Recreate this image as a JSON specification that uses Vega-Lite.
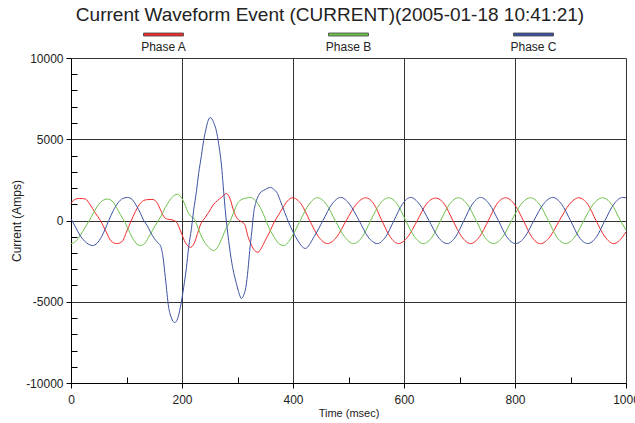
{
  "$schema": "https://vega.github.io/schema/vega-lite/v6.json",
  "padding": {"left": 10, "top": 5, "right": 5, "bottom": 5},
  "title": {"text": "Current Waveform Event (CURRENT)(2005-01-18 10:41:21)", "fontSize": 19, "font": "Liberation Sans", "fontWeight": "normal", "color": "#222", "anchor": "middle", "offset": 8, "dx": 5},
  "config": {
    "view": {"stroke": null},
    "font": "Liberation Sans",
    "axis": {"labelFont": "Liberation Sans", "titleFont": "Liberation Sans", "labelColor": "#222", "titleColor": "#222", "titleFontWeight": "normal", "labelFontSize": 12, "titleFontSize": 12, "domainColor": "#000", "tickColor": "#000", "gridColor": "#333", "gridOpacity": 1, "gridWidth": 1}
  },
  "bounds": "flush",
  "spacing": 22,
  "vconcat": [
    {
      "width": 555,
      "height": 3,
      "data": {"values": [{"p": "Phase A"}, {"p": "Phase B"}, {"p": "Phase C"}]},
      "mark": {"type": "bar", "width": 40, "stroke": "#444", "strokeWidth": 0.8},
      "encoding": {
        "x": {"field": "p", "type": "nominal", "scale": {"paddingInner": 0, "paddingOuter": 0}, "axis": {"orient": "bottom", "title": null, "domain": false, "ticks": false, "labelAngle": 0, "labelPadding": 5, "labelFontSize": 12}},
        "color": {"field": "p", "type": "nominal", "scale": {"domain": ["Phase A", "Phase B", "Phase C"], "range": ["#f42a2a", "#6cc04a", "#3d52a1"]}, "legend": null}
      }
    },
    {
      "width": 555,
      "height": 325,
      "data": {"values": [
        {"p":"Phase A","t":0,"v":1050},{"p":"Phase A","t":6,"v":1280},{"p":"Phase A","t":15,"v":1360},{"p":"Phase A","t":26,"v":1320},{"p":"Phase A","t":34,"v":1000},{"p":"Phase A","t":44,"v":450},{"p":"Phase A","t":53,"v":0},{"p":"Phase A","t":62,"v":-600},{"p":"Phase A","t":72,"v":-1250},{"p":"Phase A","t":82,"v":-1420},{"p":"Phase A","t":92,"v":-1300},{"p":"Phase A","t":100,"v":-700},{"p":"Phase A","t":108,"v":-50},{"p":"Phase A","t":116,"v":550},{"p":"Phase A","t":126,"v":1100},{"p":"Phase A","t":136,"v":1280},{"p":"Phase A","t":146,"v":1300},{"p":"Phase A","t":154,"v":1150},{"p":"Phase A","t":162,"v":600},{"p":"Phase A","t":168,"v":200},{"p":"Phase A","t":174,"v":80},{"p":"Phase A","t":182,"v":40},{"p":"Phase A","t":190,"v":-100},{"p":"Phase A","t":198,"v":-700},{"p":"Phase A","t":206,"v":-1350},{"p":"Phase A","t":215,"v":-1650},{"p":"Phase A","t":222,"v":-1400},{"p":"Phase A","t":228,"v":-800},{"p":"Phase A","t":234,"v":-200},{"p":"Phase A","t":241,"v":150},{"p":"Phase A","t":248,"v":500},{"p":"Phase A","t":256,"v":950},{"p":"Phase A","t":264,"v":1230},{"p":"Phase A","t":272,"v":1450},{"p":"Phase A","t":280,"v":1660},{"p":"Phase A","t":287,"v":1300},{"p":"Phase A","t":293,"v":600},{"p":"Phase A","t":300,"v":100},{"p":"Phase A","t":306,"v":-50},{"p":"Phase A","t":313,"v":-250},{"p":"Phase A","t":319,"v":-1000},{"p":"Phase A","t":325,"v":-1500},{"p":"Phase A","t":331,"v":-1850},{"p":"Phase A","t":337,"v":-1950},{"p":"Phase A","t":343,"v":-1700},{"p":"Phase A","t":350,"v":-1230},{"p":"Phase A","t":358,"v":-700},{"p":"Phase A","t":366,"v":-100},{"p":"Phase A","t":374,"v":350},{"p":"Phase A","t":382,"v":800},{"p":"Phase A","t":390,"v":1200},{"p":"Phase A","t":399,"v":1400},{"p":"Phase A","t":415,"v":1000},{"p":"Phase A","t":430,"v":0},{"p":"Phase A","t":446,"v":-1000},{"p":"Phase A","t":462,"v":-1420},{"p":"Phase A","t":479,"v":-1000},{"p":"Phase A","t":496,"v":0},{"p":"Phase A","t":514,"v":1000},{"p":"Phase A","t":531,"v":1400},{"p":"Phase A","t":546,"v":1000},{"p":"Phase A","t":560,"v":0},{"p":"Phase A","t":575,"v":-1000},{"p":"Phase A","t":590,"v":-1420},{"p":"Phase A","t":607,"v":-1000},{"p":"Phase A","t":624,"v":0},{"p":"Phase A","t":640,"v":1000},{"p":"Phase A","t":657,"v":1380},{"p":"Phase A","t":673,"v":1000},{"p":"Phase A","t":688,"v":0},{"p":"Phase A","t":704,"v":-1000},{"p":"Phase A","t":720,"v":-1420},{"p":"Phase A","t":736,"v":-1000},{"p":"Phase A","t":752,"v":0},{"p":"Phase A","t":767,"v":1000},{"p":"Phase A","t":783,"v":1400},{"p":"Phase A","t":799,"v":1000},{"p":"Phase A","t":815,"v":0},{"p":"Phase A","t":830,"v":-1000},{"p":"Phase A","t":846,"v":-1430},{"p":"Phase A","t":863,"v":-1000},{"p":"Phase A","t":880,"v":0},{"p":"Phase A","t":898,"v":1000},{"p":"Phase A","t":915,"v":1400},{"p":"Phase A","t":931,"v":1000},{"p":"Phase A","t":946,"v":0},{"p":"Phase A","t":962,"v":-1000},{"p":"Phase A","t":978,"v":-1420},{"p":"Phase A","t":994,"v":-1000},{"p":"Phase A","t":1000,"v":-700},
        {"p":"Phase B","t":0,"v":-1420},{"p":"Phase B","t":8,"v":-1300},{"p":"Phase B","t":17,"v":-900},{"p":"Phase B","t":25,"v":-450},{"p":"Phase B","t":33,"v":0},{"p":"Phase B","t":41,"v":500},{"p":"Phase B","t":50,"v":1000},{"p":"Phase B","t":58,"v":1250},{"p":"Phase B","t":66,"v":1320},{"p":"Phase B","t":74,"v":1200},{"p":"Phase B","t":82,"v":800},{"p":"Phase B","t":90,"v":300},{"p":"Phase B","t":97,"v":-100},{"p":"Phase B","t":104,"v":-600},{"p":"Phase B","t":112,"v":-1150},{"p":"Phase B","t":119,"v":-1450},{"p":"Phase B","t":125,"v":-1540},{"p":"Phase B","t":133,"v":-1400},{"p":"Phase B","t":142,"v":-900},{"p":"Phase B","t":152,"v":-300},{"p":"Phase B","t":161,"v":200},{"p":"Phase B","t":170,"v":800},{"p":"Phase B","t":178,"v":1250},{"p":"Phase B","t":186,"v":1550},{"p":"Phase B","t":192,"v":1620},{"p":"Phase B","t":198,"v":1450},{"p":"Phase B","t":205,"v":1000},{"p":"Phase B","t":211,"v":500},{"p":"Phase B","t":216,"v":250},{"p":"Phase B","t":221,"v":150},{"p":"Phase B","t":226,"v":-200},{"p":"Phase B","t":233,"v":-820},{"p":"Phase B","t":240,"v":-1300},{"p":"Phase B","t":248,"v":-1650},{"p":"Phase B","t":257,"v":-1850},{"p":"Phase B","t":265,"v":-1600},{"p":"Phase B","t":273,"v":-1000},{"p":"Phase B","t":280,"v":-450},{"p":"Phase B","t":286,"v":-100},{"p":"Phase B","t":293,"v":500},{"p":"Phase B","t":300,"v":1050},{"p":"Phase B","t":308,"v":1300},{"p":"Phase B","t":316,"v":1380},{"p":"Phase B","t":323,"v":1420},{"p":"Phase B","t":330,"v":1300},{"p":"Phase B","t":341,"v":800},{"p":"Phase B","t":349,"v":200},{"p":"Phase B","t":356,"v":-400},{"p":"Phase B","t":364,"v":-900},{"p":"Phase B","t":374,"v":-1400},{"p":"Phase B","t":383,"v":-1550},{"p":"Phase B","t":398,"v":-1000},{"p":"Phase B","t":413,"v":0},{"p":"Phase B","t":429,"v":1000},{"p":"Phase B","t":444,"v":1400},{"p":"Phase B","t":460,"v":1000},{"p":"Phase B","t":476,"v":0},{"p":"Phase B","t":493,"v":-1000},{"p":"Phase B","t":509,"v":-1420},{"p":"Phase B","t":525,"v":-1000},{"p":"Phase B","t":540,"v":0},{"p":"Phase B","t":556,"v":1000},{"p":"Phase B","t":572,"v":1400},{"p":"Phase B","t":588,"v":1000},{"p":"Phase B","t":603,"v":0},{"p":"Phase B","t":619,"v":-1000},{"p":"Phase B","t":635,"v":-1420},{"p":"Phase B","t":651,"v":-1000},{"p":"Phase B","t":666,"v":0},{"p":"Phase B","t":682,"v":1000},{"p":"Phase B","t":698,"v":1400},{"p":"Phase B","t":714,"v":1000},{"p":"Phase B","t":730,"v":0},{"p":"Phase B","t":745,"v":-1000},{"p":"Phase B","t":761,"v":-1420},{"p":"Phase B","t":778,"v":-1000},{"p":"Phase B","t":794,"v":0},{"p":"Phase B","t":811,"v":1000},{"p":"Phase B","t":828,"v":1400},{"p":"Phase B","t":844,"v":1000},{"p":"Phase B","t":860,"v":0},{"p":"Phase B","t":875,"v":-1000},{"p":"Phase B","t":891,"v":-1420},{"p":"Phase B","t":908,"v":-1000},{"p":"Phase B","t":924,"v":0},{"p":"Phase B","t":941,"v":1000},{"p":"Phase B","t":958,"v":1400},{"p":"Phase B","t":974,"v":1000},{"p":"Phase B","t":990,"v":0},{"p":"Phase B","t":1000,"v":-600},
        {"p":"Phase C","t":0,"v":100},{"p":"Phase C","t":8,"v":-400},{"p":"Phase C","t":16,"v":-900},{"p":"Phase C","t":24,"v":-1250},{"p":"Phase C","t":31,"v":-1450},{"p":"Phase C","t":39,"v":-1540},{"p":"Phase C","t":47,"v":-1400},{"p":"Phase C","t":55,"v":-1000},{"p":"Phase C","t":62,"v":-500},{"p":"Phase C","t":68,"v":0},{"p":"Phase C","t":76,"v":600},{"p":"Phase C","t":85,"v":1100},{"p":"Phase C","t":93,"v":1350},{"p":"Phase C","t":102,"v":1420},{"p":"Phase C","t":110,"v":1300},{"p":"Phase C","t":118,"v":900},{"p":"Phase C","t":125,"v":450},{"p":"Phase C","t":131,"v":0},{"p":"Phase C","t":137,"v":-300},{"p":"Phase C","t":143,"v":-700},{"p":"Phase C","t":150,"v":-1100},{"p":"Phase C","t":156,"v":-1350},{"p":"Phase C","t":161,"v":-1540},{"p":"Phase C","t":166,"v":-2300},{"p":"Phase C","t":170,"v":-3500},{"p":"Phase C","t":176,"v":-5350},{"p":"Phase C","t":181,"v":-6000},{"p":"Phase C","t":187,"v":-6280},{"p":"Phase C","t":192,"v":-6050},{"p":"Phase C","t":197,"v":-5350},{"p":"Phase C","t":203,"v":-4120},{"p":"Phase C","t":208,"v":-2900},{"p":"Phase C","t":212,"v":-1650},{"p":"Phase C","t":217,"v":-500},{"p":"Phase C","t":221,"v":620},{"p":"Phase C","t":226,"v":1800},{"p":"Phase C","t":230,"v":2890},{"p":"Phase C","t":235,"v":4000},{"p":"Phase C","t":239,"v":4920},{"p":"Phase C","t":243,"v":5600},{"p":"Phase C","t":246,"v":6030},{"p":"Phase C","t":251,"v":6340},{"p":"Phase C","t":254,"v":6250},{"p":"Phase C","t":257,"v":6030},{"p":"Phase C","t":262,"v":5500},{"p":"Phase C","t":266,"v":4740},{"p":"Phase C","t":272,"v":3080},{"p":"Phase C","t":275,"v":1800},{"p":"Phase C","t":278,"v":620},{"p":"Phase C","t":284,"v":-1230},{"p":"Phase C","t":290,"v":-2650},{"p":"Phase C","t":298,"v":-3880},{"p":"Phase C","t":303,"v":-4500},{"p":"Phase C","t":307,"v":-4800},{"p":"Phase C","t":311,"v":-4600},{"p":"Phase C","t":315,"v":-4120},{"p":"Phase C","t":319,"v":-3000},{"p":"Phase C","t":322,"v":-1850},{"p":"Phase C","t":326,"v":-600},{"p":"Phase C","t":329,"v":430},{"p":"Phase C","t":333,"v":1100},{"p":"Phase C","t":338,"v":1540},{"p":"Phase C","t":344,"v":1800},{"p":"Phase C","t":350,"v":1900},{"p":"Phase C","t":355,"v":2000},{"p":"Phase C","t":360,"v":2030},{"p":"Phase C","t":366,"v":1900},{"p":"Phase C","t":372,"v":1660},{"p":"Phase C","t":377,"v":1230},{"p":"Phase C","t":385,"v":500},{"p":"Phase C","t":392,"v":-100},{"p":"Phase C","t":400,"v":-700},{"p":"Phase C","t":408,"v":-1200},{"p":"Phase C","t":415,"v":-1550},{"p":"Phase C","t":422,"v":-1720},{"p":"Phase C","t":438,"v":-1000},{"p":"Phase C","t":454,"v":0},{"p":"Phase C","t":470,"v":1000},{"p":"Phase C","t":486,"v":1420},{"p":"Phase C","t":502,"v":1000},{"p":"Phase C","t":519,"v":0},{"p":"Phase C","t":535,"v":-1000},{"p":"Phase C","t":552,"v":-1420},{"p":"Phase C","t":567,"v":-1000},{"p":"Phase C","t":582,"v":0},{"p":"Phase C","t":597,"v":1000},{"p":"Phase C","t":612,"v":1420},{"p":"Phase C","t":628,"v":1000},{"p":"Phase C","t":645,"v":0},{"p":"Phase C","t":661,"v":-1000},{"p":"Phase C","t":678,"v":-1420},{"p":"Phase C","t":693,"v":-1000},{"p":"Phase C","t":708,"v":0},{"p":"Phase C","t":723,"v":1000},{"p":"Phase C","t":738,"v":1420},{"p":"Phase C","t":754,"v":1000},{"p":"Phase C","t":770,"v":0},{"p":"Phase C","t":785,"v":-1000},{"p":"Phase C","t":801,"v":-1420},{"p":"Phase C","t":818,"v":-1000},{"p":"Phase C","t":834,"v":0},{"p":"Phase C","t":851,"v":1000},{"p":"Phase C","t":868,"v":1420},{"p":"Phase C","t":884,"v":1000},{"p":"Phase C","t":900,"v":0},{"p":"Phase C","t":915,"v":-1000},{"p":"Phase C","t":931,"v":-1420},{"p":"Phase C","t":947,"v":-1000},{"p":"Phase C","t":962,"v":0},{"p":"Phase C","t":978,"v":1000},{"p":"Phase C","t":994,"v":1420},{"p":"Phase C","t":1000,"v":1400}
      ]},
      "layer": [
        {
          "mark": {"type": "line", "strokeWidth": 1, "interpolate": "monotone"},
          "encoding": {
            "x": {"field": "t", "type": "quantitative", "scale": {"domain": [0, 1000], "nice": false}, "axis": {"orient": "bottom", "values": [0, 200, 400, 600, 800, 1000], "format": "d", "labelFlush": false, "title": "Time (msec)", "titleFontSize": 11, "titlePadding": 2, "labelPadding": 6, "tickSize": 5, "grid": true}},
            "y": {"field": "v", "type": "quantitative", "scale": {"domain": [-10000, 10000], "nice": false}, "axis": {"orient": "left", "values": [-10000, -5000, 0, 5000, 10000], "labelExpr": "datum.value < 0 ? '-' + abs(datum.value) : '' + datum.value", "labelFlush": false, "title": "Current (Amps)", "titlePadding": 2, "labelPadding": 3, "tickSize": 5, "grid": true}},
            "color": {"field": "p", "type": "nominal", "scale": {"domain": ["Phase A", "Phase B", "Phase C"], "range": ["#f42a2a", "#6cc04a", "#3d52a1"]}, "legend": null}
          }
        },
        {
          "mark": {"type": "line", "opacity": 0},
          "encoding": {
            "x": {"field": "t", "type": "quantitative", "axis": {"orient": "bottom", "values": [100, 300, 500, 700, 900], "title": null, "labels": false, "domain": false, "grid": false, "tickSize": -6}},
            "y": {"field": "v", "type": "quantitative", "axis": {"orient": "left", "values": [-9000, -8000, -7000, -6000, -4000, -3000, -2000, -1000, 1000, 2000, 3000, 4000, 6000, 7000, 8000, 9000], "title": null, "labels": false, "domain": false, "grid": false, "tickSize": -6}},
            "detail": {"field": "p", "type": "nominal"}
          }
        }
      ],
      "resolve": {"axis": {"x": "independent", "y": "independent"}}
    }
  ]
}
